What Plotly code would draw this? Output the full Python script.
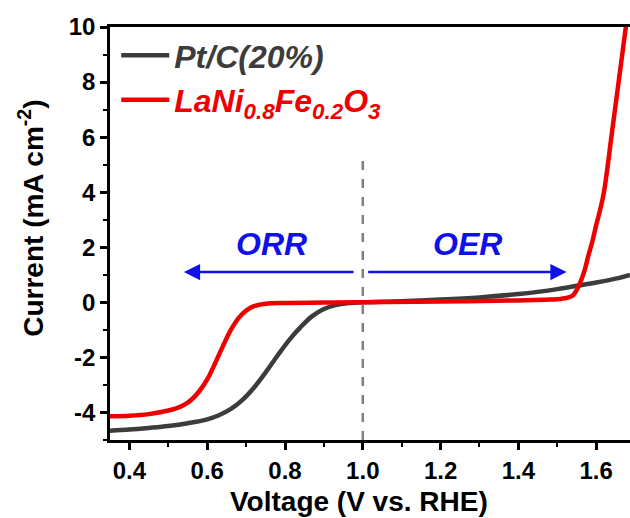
import plotly.graph_objects as go

# Pt/C(20%) polarization curve
ptc_v = [0.35, 0.40, 0.45, 0.50, 0.55, 0.60, 0.63, 0.66, 0.69, 0.72, 0.75, 0.78,
         0.81, 0.84, 0.87, 0.90, 0.93, 0.96, 1.00, 1.10, 1.20, 1.30, 1.40, 1.45,
         1.50, 1.55, 1.60, 1.65, 1.687]
ptc_i = [-4.66, -4.62, -4.56, -4.49, -4.39, -4.25, -4.10, -3.88, -3.55, -3.10, -2.55, -1.95,
         -1.38, -0.90, -0.50, -0.24, -0.10, -0.03, 0.00, 0.04, 0.10, 0.18, 0.30, 0.38,
         0.48, 0.60, 0.72, 0.86, 1.00]

# LaNi0.8Fe0.2O3 polarization curve
lnf_v = [0.35, 0.40, 0.45, 0.50, 0.52, 0.54, 0.56, 0.58, 0.60, 0.62, 0.64, 0.66,
         0.68, 0.70, 0.72, 0.75, 0.80, 0.90, 1.00, 1.20, 1.40, 1.48, 1.52, 1.54,
         1.55, 1.56, 1.57, 1.58, 1.59, 1.60, 1.61, 1.62, 1.64, 1.66, 1.68, 1.69]
lnf_i = [-4.14, -4.12, -4.06, -3.93, -3.85, -3.73, -3.53, -3.22, -2.80, -2.22, -1.60, -1.02,
         -0.58, -0.30, -0.14, -0.05, -0.02, -0.01, 0.00, 0.03, 0.07, 0.10, 0.15, 0.25,
         0.45, 0.75, 1.15, 1.70, 2.20, 2.80, 3.35, 4.00, 6.10, 8.25, 10.40, 11.5]

series_names = ["Pt/C(20%)", "LaNi<sub>0.8</sub>Fe<sub>0.2</sub>O<sub>3</sub>"]
series_colors = ["#3c3c3c", "#ee0000"]

x_ticks = [0.4, 0.6, 0.8, 1.0, 1.2, 1.4, 1.6]
x_ticktext = ["0.4", "0.6", "0.8", "1.0", "1.2", "1.4", "1.6"]
y_ticks = [-4, -2, 0, 2, 4, 6, 8, 10]
y_ticktext = ["-4", "-2", "0", "2", "4", "6", "8", "10"]

FONT = "Liberation Sans, Arial, sans-serif"

fig = go.Figure()
fig.add_trace(go.Scatter(
    x=ptc_v, y=ptc_i, mode="lines", line_shape="spline",
    line=dict(color=series_colors[0], width=4.5),
    name='<span style="color:%s"><i>%s</i></span>' % (series_colors[0], series_names[0])))
fig.add_trace(go.Scatter(
    x=lnf_v, y=lnf_i, mode="lines", line_shape="spline",
    line=dict(color=series_colors[1], width=4.5),
    name='<span style="color:%s"><i>%s</i></span>' % (series_colors[1], series_names[1])))

# dashed divider at 1.0 V
fig.add_shape(type="line", x0=1.0, x1=1.0, y0=-5, y1=5.37, xref="x", yref="y",
              line=dict(color="#808080", width=2.5, dash="dash"))

blue = "#1010e8"
fig.add_annotation(x=0.54, y=1.1, ax=0.98, ay=1.1, xref="x", yref="y", axref="x", ayref="y",
                   text="", showarrow=True, arrowhead=2, arrowsize=1.3, arrowwidth=2.5,
                   arrowcolor=blue)
fig.add_annotation(x=1.524, y=1.1, ax=1.01, ay=1.1, xref="x", yref="y", axref="x", ayref="y",
                   text="", showarrow=True, arrowhead=2, arrowsize=1.3, arrowwidth=2.5,
                   arrowcolor=blue)
fig.add_annotation(x=0.766, y=2.13, xref="x", yref="y", text="<i>ORR</i>", showarrow=False,
                   font=dict(family=FONT, size=32, color=blue, weight="bold"))
fig.add_annotation(x=1.27, y=2.13, xref="x", yref="y", text="<i>OER</i>", showarrow=False,
                   font=dict(family=FONT, size=32, color=blue, weight="bold"))

# axis titles
fig.add_annotation(x=0.479, y=-0.148, xref="paper", yref="paper", text="Voltage (V vs. RHE)",
                   showarrow=False, xanchor="center", yanchor="middle",
                   font=dict(family=FONT, size=28, color="black", weight="bold"))
fig.add_annotation(x=-0.152, y=0.538, xref="paper", yref="paper",
                   text="Current (mA cm<sup>-2</sup>)", textangle=-90,
                   showarrow=False, xanchor="center", yanchor="middle",
                   font=dict(family=FONT, size=28, color="black", weight="bold"))

fig.update_layout(
    width=630, height=518,
    margin=dict(l=110, r=0, t=27, b=78),
    plot_bgcolor="white", paper_bgcolor="white",
    font=dict(family=FONT, size=24, color="black"),
    showlegend=True,
    legend=dict(x=0.012, y=0.998, xanchor="left", yanchor="top", bgcolor="rgba(0,0,0,0)",
                font=dict(family=FONT, size=32, weight="bold"), itemwidth=48,
                tracegroupgap=0),
)
fig.update_xaxes(range=[0.35, 1.687], tickvals=x_ticks, ticktext=x_ticktext,
                 ticks="outside", ticklen=7, tickwidth=2.5, tickcolor="black",
                 showline=True, linewidth=2.5, linecolor="black", mirror=True,
                 showgrid=False, zeroline=False,
                 tickfont=dict(family=FONT, size=24, weight="bold"),
                 minor=dict(dtick=0.1, tick0=0, ticks="outside", ticklen=4, tickwidth=2, tickcolor="black", showgrid=False))
fig.update_yaxes(range=[-5, 10], tickvals=y_ticks, ticktext=y_ticktext,
                 ticks="outside", ticklen=7, tickwidth=2.5, tickcolor="black",
                 showline=True, linewidth=2.5, linecolor="black",
                 showgrid=False, zeroline=False,
                 tickfont=dict(family=FONT, size=24, weight="bold"),
                 minor=dict(dtick=1, tick0=0, ticks="outside", ticklen=4, tickwidth=2, tickcolor="black", showgrid=False))

fig.write_html("out.html", config={"displayModeBar": False},
               post_script="document.body.style.margin='0';document.body.style.overflow='hidden';")
